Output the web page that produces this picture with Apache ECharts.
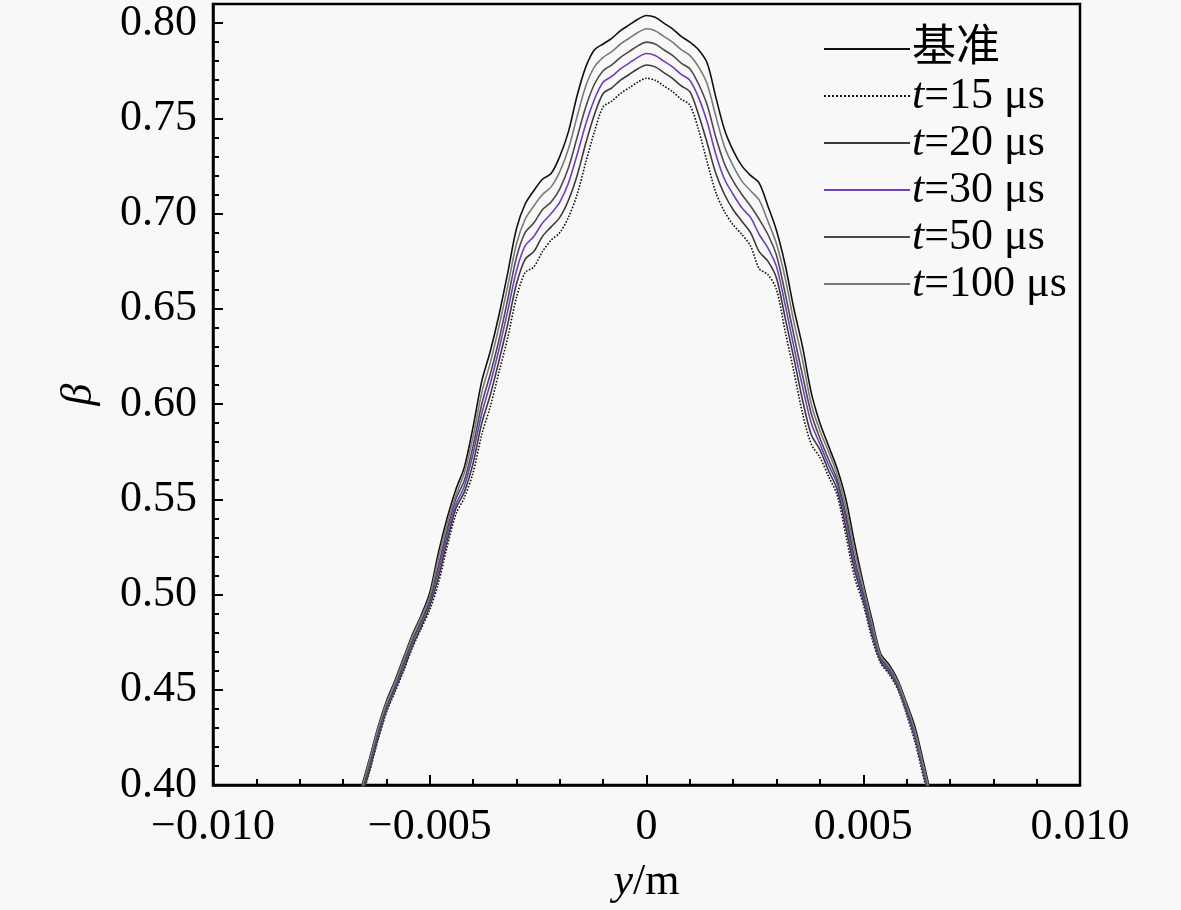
<!DOCTYPE html>
<html>
<head>
<meta charset="utf-8">
<script src="https://cdn.jsdelivr.net/npm/echarts@6/dist/echarts.min.js"></script>
<style>
  html, body { margin: 0; padding: 0; background: #f8f8f8; }
  #chart { width: 1181px; height: 910px; }
</style>
</head>
<body>
<div id="chart"></div>
<script>
// y 坐标 (m)
const yPos = [
  -0.0068, -0.0066, -0.0064, -0.0062, -0.0060, -0.0058, -0.0056, -0.0054, -0.0052, -0.0050,
  -0.0048, -0.0046, -0.0044, -0.0042, -0.0040, -0.0038, -0.0036, -0.0034, -0.0032, -0.0030,
  -0.0028, -0.0026, -0.0024, -0.0022, -0.0020, -0.0018, -0.0016, -0.0014, -0.0012, -0.0010,
  -0.0008, -0.0006, -0.0004, -0.0002, 0, 0.0002, 0.0004, 0.0006, 0.0008, 0.0010,
  0.0012, 0.0014, 0.0016, 0.0018, 0.0020, 0.0022, 0.0024, 0.0026, 0.0028, 0.0030,
  0.0032, 0.0034, 0.0036, 0.0038, 0.0040, 0.0042, 0.0044, 0.0046, 0.0048, 0.0050,
  0.0052, 0.0054, 0.0056, 0.0058, 0.0060, 0.0062, 0.0064, 0.0066, 0.0068
]

const betaBase = [
  0.383, 0.397, 0.413, 0.430, 0.444, 0.455, 0.467, 0.479, 0.489, 0.501,
  0.522, 0.540, 0.555, 0.567, 0.588, 0.612, 0.628, 0.647, 0.669, 0.692,
  0.705, 0.712, 0.718, 0.721, 0.730, 0.743, 0.762, 0.777, 0.786, 0.789,
  0.792, 0.796, 0.799, 0.802, 0.804, 0.803, 0.800, 0.797, 0.793, 0.790,
  0.786, 0.779, 0.761, 0.744, 0.733, 0.725, 0.720, 0.716, 0.704, 0.691,
  0.673, 0.650, 0.630, 0.606, 0.590, 0.578, 0.566, 0.550, 0.527, 0.506,
  0.487, 0.469, 0.463, 0.455, 0.443, 0.430, 0.411, 0.392, 0.378
]

const beta15 = [
  0.377, 0.391, 0.406, 0.423, 0.438, 0.449, 0.460, 0.472, 0.482, 0.492,
  0.506, 0.525, 0.542, 0.551, 0.564, 0.584, 0.599, 0.617, 0.635, 0.656,
  0.669, 0.672, 0.680, 0.686, 0.690, 0.698, 0.710, 0.727, 0.743, 0.756,
  0.759, 0.763, 0.766, 0.769, 0.771, 0.770, 0.767, 0.764, 0.760, 0.757,
  0.744, 0.727, 0.711, 0.701, 0.694, 0.689, 0.683, 0.671, 0.668, 0.660,
  0.638, 0.617, 0.595, 0.579, 0.572, 0.562, 0.552, 0.531, 0.509, 0.495,
  0.477, 0.464, 0.458, 0.450, 0.437, 0.422, 0.403, 0.386, 0.372
]

const beta20 = [
  0.378, 0.392, 0.407, 0.424, 0.439, 0.450, 0.461, 0.473, 0.483, 0.494,
  0.509, 0.528, 0.545, 0.554, 0.569, 0.590, 0.605, 0.623, 0.642, 0.663,
  0.676, 0.680, 0.688, 0.693, 0.698, 0.707, 0.720, 0.737, 0.752, 0.763,
  0.766, 0.770, 0.773, 0.776, 0.778, 0.777, 0.774, 0.771, 0.767, 0.764,
  0.752, 0.737, 0.721, 0.710, 0.702, 0.696, 0.690, 0.680, 0.675, 0.666,
  0.645, 0.624, 0.602, 0.584, 0.576, 0.565, 0.555, 0.535, 0.513, 0.497,
  0.479, 0.465, 0.459, 0.451, 0.438, 0.424, 0.405, 0.387, 0.373
]

const beta30 = [
  0.379, 0.393, 0.409, 0.426, 0.440, 0.451, 0.463, 0.475, 0.485, 0.496,
  0.512, 0.531, 0.547, 0.557, 0.574, 0.595, 0.611, 0.629, 0.649, 0.670,
  0.683, 0.688, 0.695, 0.700, 0.706, 0.716, 0.731, 0.747, 0.760, 0.769,
  0.772, 0.776, 0.779, 0.782, 0.784, 0.783, 0.780, 0.777, 0.773, 0.770,
  0.761, 0.748, 0.731, 0.718, 0.710, 0.703, 0.698, 0.689, 0.682, 0.672,
  0.652, 0.630, 0.609, 0.590, 0.579, 0.568, 0.558, 0.539, 0.516, 0.499,
  0.481, 0.466, 0.460, 0.452, 0.439, 0.425, 0.406, 0.388, 0.374
]

const beta50 = [
  0.380, 0.394, 0.410, 0.427, 0.441, 0.452, 0.464, 0.476, 0.486, 0.497,
  0.515, 0.534, 0.550, 0.560, 0.578, 0.600, 0.616, 0.634, 0.655, 0.677,
  0.690, 0.695, 0.702, 0.706, 0.713, 0.724, 0.740, 0.756, 0.768, 0.775,
  0.778, 0.782, 0.785, 0.788, 0.790, 0.789, 0.786, 0.783, 0.779, 0.776,
  0.768, 0.757, 0.740, 0.726, 0.717, 0.710, 0.704, 0.697, 0.689, 0.678,
  0.658, 0.636, 0.615, 0.595, 0.582, 0.571, 0.560, 0.542, 0.519, 0.501,
  0.483, 0.467, 0.461, 0.453, 0.440, 0.427, 0.408, 0.389, 0.375
]

const beta100 = [
  0.382, 0.396, 0.412, 0.429, 0.443, 0.454, 0.466, 0.478, 0.488, 0.499,
  0.519, 0.537, 0.552, 0.564, 0.583, 0.606, 0.622, 0.641, 0.662, 0.684,
  0.697, 0.704, 0.710, 0.714, 0.722, 0.734, 0.751, 0.767, 0.777, 0.782,
  0.785, 0.789, 0.792, 0.795, 0.797, 0.796, 0.793, 0.790, 0.786, 0.783,
  0.777, 0.768, 0.751, 0.735, 0.725, 0.717, 0.712, 0.707, 0.696, 0.684,
  0.666, 0.643, 0.623, 0.600, 0.586, 0.575, 0.563, 0.546, 0.523, 0.504,
  0.485, 0.468, 0.462, 0.454, 0.442, 0.428, 0.409, 0.391, 0.377
]

const legendNames = ['基准', 't=15 μs', 't=20 μs', 't=30 μs', 't=50 μs', 't=100 μs']

const fontFamily = '"Liberation Serif", "Times New Roman", "Noto Sans CJK SC", serif'

function pairs(vals) {
  return yPos.map((x, i) => [x, vals[i]])
}

function makeLine(name, vals, color, type) {
  return {
    name: name,
    type: 'line',
    showSymbol: false,
    symbol: 'none',
    smooth: 0.3,
    clip: true,
    lineStyle: { color: color, width: 1.6, type: type || 'solid' },
    itemStyle: { color: color },
    data: pairs(vals)
  }
}

const chart = echarts.init(document.getElementById('chart'))

const option = {
  backgroundColor: '#f8f8f8',
  animation: false,
  grid: {
    left: 213,
    right: 101,
    top: 4,
    bottom: 125,
    show: true,
    borderColor: '#000',
    borderWidth: 2.5,
    backgroundColor: 'transparent'
  },
  legend: {
    orient: 'vertical',
    left: 818,
    top: 22,
    itemWidth: 86,
    itemHeight: 14,
    itemGap: 3,
    data: legendNames,
    itemStyle: { opacity: 0 },
    formatter: function (name) {
      return name.indexOf('t=') === 0 ? '{i|t}' + name.slice(1) : name
    },
    textStyle: {
      fontFamily: fontFamily,
      fontSize: 44,
      lineHeight: 40,
      color: '#000',
      padding: [0, 0, 0, -3],
      rich: {
        i: { fontFamily: fontFamily, fontStyle: 'italic', fontSize: 44, lineHeight: 40, color: '#000' }
      }
    }
  },
  xAxis: {
    type: 'value',
    min: -0.01,
    max: 0.01,
    interval: 0.005,
    name: '{i|y}/m',
    nameLocation: 'middle',
    nameGap: 75,
    nameTextStyle: {
      fontFamily: fontFamily,
      fontSize: 44,
      color: '#000',
      rich: {
        i: { fontFamily: fontFamily, fontStyle: 'italic', fontSize: 44, color: '#000' }
      }
    },
    axisLine: { show: true, onZero: false, lineStyle: { color: '#000', width: 2.5 } },
    axisTick: { show: true, inside: true, length: 10, lineStyle: { color: '#000', width: 2 } },
    minorTick: { show: true, splitNumber: 5, length: 6, lineStyle: { color: '#000', width: 2 } },
    splitLine: { show: false },
    axisLabel: {
      fontFamily: fontFamily,
      fontSize: 44,
      color: '#000',
      margin: 20,
      formatter: function (v) {
        if (Math.abs(v) < 1e-9) return '0'
        const s = Math.abs(v).toFixed(3)
        return v < 0 ? '\u2212' + s : s
      }
    }
  },
  yAxis: {
    type: 'value',
    min: 0.40,
    max: 0.81,
    interval: 0.05,
    name: 'β',
    nameLocation: 'middle',
    nameGap: 112,
    nameRotate: 90,
    nameTextStyle: {
      fontFamily: fontFamily,
      fontSize: 44,
      fontStyle: 'italic',
      color: '#000'
    },
    axisLine: { show: true, onZero: false, lineStyle: { color: '#000', width: 2.5 } },
    axisTick: { show: true, inside: true, length: 10, lineStyle: { color: '#000', width: 2 } },
    minorTick: { show: true, splitNumber: 5, length: 6, lineStyle: { color: '#000', width: 2 } },
    splitLine: { show: false },
    axisLabel: {
      fontFamily: fontFamily,
      fontSize: 44,
      color: '#000',
      margin: 16,
      showMaxLabel: false,
      formatter: function (v) {
        return v > 0.805 ? '' : v.toFixed(2)
      }
    }
  },
  series: [
    makeLine('基准', betaBase, '#111111'),
    makeLine('t=15 μs', beta15, '#111111', 'dotted'),
    makeLine('t=20 μs', beta20, '#3a3a3a'),
    makeLine('t=30 μs', beta30, '#7040b8'),
    makeLine('t=50 μs', beta50, '#4a4a4a'),
    makeLine('t=100 μs', beta100, '#7a7a7a')
  ]
}

chart.setOption(option)
</script>
</body>
</html>
